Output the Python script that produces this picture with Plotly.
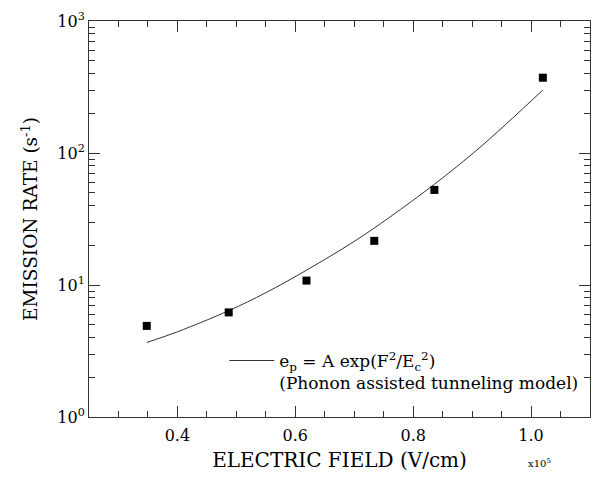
import plotly.graph_objects as go

# measured data (field in units of 1e5 V/cm, emission rate in 1/s)
field = [0.348, 0.487, 0.619, 0.734, 0.836, 1.020]
rate = [4.9, 6.2, 10.8, 21.6, 52.5, 372]

# fitted model curve
fit_field = [0.348, 0.40, 0.487, 0.55, 0.619, 0.70, 0.76, 0.836, 0.913, 1.020]
fit_rate = [3.67, 4.42, 6.39, 8.74, 12.95, 21.4, 32.6, 58.0, 110.0, 300]

xticks = [0.4, 0.6, 0.8, 1.0]
xticklabels = ["0.4", "0.6", "0.8", "1.0"]
yticks = [1, 10, 100, 1000]
yticklabels = ["10<sup>0</sup>", "10<sup>1</sup>", "10<sup>2</sup>", "10<sup>3</sup>"]
yminor = [m * 10 ** k for k in range(3) for m in range(2, 10)]
xminor = [0.25 + 0.05 * i for i in range(18)]

FONT = "DejaVu Serif"

fig = go.Figure()
fig.add_trace(go.Scatter(
    x=fit_field, y=fit_rate, mode="lines", line=dict(color="#333333", width=1, shape="spline"),
    name="e<sub>p</sub> = A exp(F<sup>2</sup>/E<sub>c</sub><sup>2</sup>)<br>(Phonon assisted tunneling model)",
    showlegend=True,
))
fig.add_trace(go.Scatter(
    x=field, y=rate, mode="markers",
    marker=dict(symbol="square", size=8, color="black"),
    showlegend=False,
))

axis_common = dict(
    showgrid=False, zeroline=False, showline=True, linecolor="#333333", linewidth=1,
    mirror="allticks", ticks="inside", ticklen=11, tickcolor="#333333",
    tickfont=dict(family=FONT, size=16, color="black"),
)

fig.update_layout(
    width=601, height=477,
    margin=dict(l=89, r=10, t=18, b=55),
    paper_bgcolor="white", plot_bgcolor="white",
    font=dict(family=FONT, color="black"),
    xaxis=dict(
        range=[0.25, 1.1], tickmode="array", tickvals=xticks, ticktext=xticklabels,
        minor=dict(tickmode="array", tickvals=xminor, ticks="inside", ticklen=6, tickcolor="#333333"),
        title=dict(text="ELECTRIC FIELD (V/cm)", font=dict(family=FONT, size=20), standoff=8),
        ticklabelstandoff=4,
        **axis_common,
    ),
    yaxis=dict(
        type="log", range=[0, 3], tickmode="array", tickvals=yticks, ticktext=yticklabels,
        minor=dict(tickmode="array", tickvals=yminor, ticks="inside", ticklen=6, tickcolor="#333333"),
        title=dict(text="EMISSION RATE (s<sup>-1</sup>)", font=dict(family=FONT, size=18.5), standoff=14),
        **axis_common,
    ),
    legend=dict(
        x=0.27, y=0.187, xanchor="left", yanchor="top",
        bgcolor="rgba(0,0,0,0)", font=dict(family=FONT, size=17, color="black"),
        itemwidth=45, valign="top",
    ),
    annotations=[dict(
        text="x10<sup>5</sup>", xref="paper", yref="paper", x=0.873, y=-0.095,
        xanchor="left", yanchor="top", showarrow=False,
        font=dict(family=FONT, size=10, color="black"),
    )],
)

fig.write_html("out.html")
